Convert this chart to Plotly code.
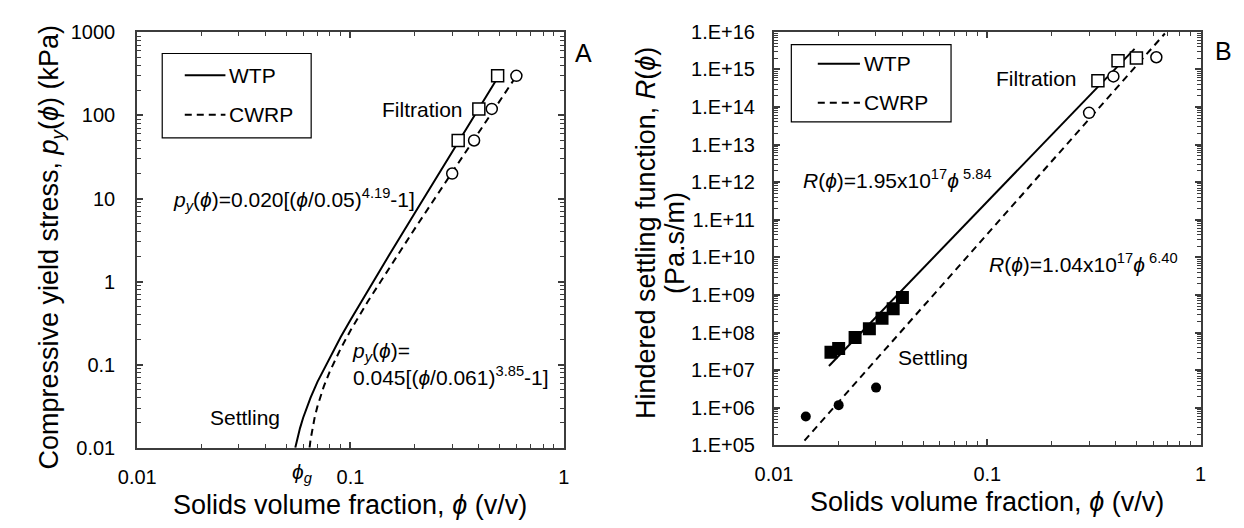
import plotly.graph_objects as go

# ---------------- data ----------------
# Panel A : compressive yield stress
wtp_filt_phi = [0.32, 0.40, 0.49]
wtp_filt_py = [50, 120, 300]
cwrp_filt_phi = [0.30, 0.38, 0.46, 0.60]
cwrp_filt_py = [20, 50, 120, 300]

wtp_fit_phi = [0.0551, 0.056, 0.058, 0.060, 0.065, 0.070, 0.080, 0.090, 0.100, 0.120, 0.150, 0.200, 0.300, 0.400, 0.490]
wtp_fit_py = [0.010, 0.0122, 0.0172, 0.0229, 0.040, 0.062, 0.123, 0.215, 0.345, 0.764, 1.98, 6.64, 36.4, 121.6, 284]
cwrp_fit_phi = [0.0643, 0.065, 0.068, 0.070, 0.075, 0.080, 0.090, 0.100, 0.120, 0.150, 0.200, 0.300, 0.400, 0.600]
cwrp_fit_py = [0.010, 0.0125, 0.0234, 0.0314, 0.0547, 0.0828, 0.156, 0.257, 0.564, 1.39, 4.31, 20.7, 62.7, 299]

# Panel B : hindered settling function
wtp_settle_phi = [0.0185, 0.0201, 0.0240, 0.0280, 0.0321, 0.0362, 0.0400]
wtp_settle_R = [3.0e7, 3.8e7, 7.4e7, 1.26e8, 2.4e8, 4.3e8, 8.6e8]
cwrp_settle_phi = [0.0141, 0.0201, 0.0301]
cwrp_settle_R = [5.9e5, 1.18e6, 3.45e6]
wtp_filtB_phi = [0.33, 0.41, 0.50]
wtp_filtB_R = [5.0e14, 1.7e15, 2.0e15]
cwrp_filtB_phi = [0.30, 0.39, 0.62]
cwrp_filtB_R = [7.0e13, 6.5e14, 2.1e15]
wtp_lineB_phi = [0.0181, 0.49]
wtp_lineB_R = [1.3e7, 3.5e15]
cwrp_lineB_phi = [0.0139, 0.68]
cwrp_lineB_R = [1.35e5, 9.0e15]

xA_ticks = [0.01, 0.1, 1]
xA_text = ["0.01", "0.1", "1"]
yA_ticks = [0.01, 0.1, 1, 10, 100, 1000]
yA_text = ["0.01", "0.1", "1", "10", "100", "1000"]
yB_exps = list(range(5, 17))
yB_ticks = [10.0 ** e for e in yB_exps]
yB_text = ["1.E+%02d" % e for e in yB_exps]

# ---------------- styling ----------------
W, H = 1244, 528
FONT = "Liberation Sans, Arial, sans-serif"
AX = "#3c3c3c"
DASH = "7px,5px"


def px(x):
    return x / W


def py(y):
    return 1 - y / H


def minor_vals(lo, hi):
    out = []
    for e in range(lo, hi):
        for m in range(2, 10):
            out.append(m * 10.0 ** e)
    return out


fig = go.Figure()

# Panel A traces
fig.add_trace(go.Scatter(x=wtp_fit_phi, y=wtp_fit_py, mode="lines",
                         line=dict(color="black", width=2), xaxis="x", yaxis="y"))
fig.add_trace(go.Scatter(x=cwrp_fit_phi, y=cwrp_fit_py, mode="lines",
                         line=dict(color="black", width=2, dash=DASH), xaxis="x", yaxis="y"))
fig.add_trace(go.Scatter(x=wtp_filt_phi, y=wtp_filt_py, mode="markers",
                         marker=dict(symbol="square", size=12, color="white",
                                     line=dict(color="black", width=1.5)), xaxis="x", yaxis="y"))
fig.add_trace(go.Scatter(x=cwrp_filt_phi, y=cwrp_filt_py, mode="markers",
                         marker=dict(symbol="circle", size=11, color="white",
                                     line=dict(color="black", width=1.5)), xaxis="x", yaxis="y"))

# Panel B traces
fig.add_trace(go.Scatter(x=wtp_lineB_phi, y=wtp_lineB_R, mode="lines",
                         line=dict(color="black", width=2), xaxis="x2", yaxis="y2"))
fig.add_trace(go.Scatter(x=cwrp_lineB_phi, y=cwrp_lineB_R, mode="lines",
                         line=dict(color="black", width=2, dash=DASH), xaxis="x2", yaxis="y2"))
fig.add_trace(go.Scatter(x=wtp_filtB_phi, y=wtp_filtB_R, mode="markers",
                         marker=dict(symbol="square", size=12, color="white",
                                     line=dict(color="black", width=1.5)), xaxis="x2", yaxis="y2"))
fig.add_trace(go.Scatter(x=cwrp_filtB_phi, y=cwrp_filtB_R, mode="markers",
                         marker=dict(symbol="circle", size=11, color="white",
                                     line=dict(color="black", width=1.5)), xaxis="x2", yaxis="y2"))
fig.add_trace(go.Scatter(x=wtp_settle_phi, y=wtp_settle_R, mode="markers",
                         marker=dict(symbol="square", size=13, color="black",
                                     line=dict(color="black", width=0)), xaxis="x2", yaxis="y2"))
fig.add_trace(go.Scatter(x=cwrp_settle_phi, y=cwrp_settle_R, mode="markers",
                         marker=dict(symbol="circle", size=10, color="black",
                                     line=dict(color="black", width=0)), xaxis="x2", yaxis="y2"))


def axis(dom, rng, tv, tt, mv, anchor, standoff):
    return dict(type="log", domain=dom, range=rng, anchor=anchor,
                tickmode="array", tickvals=tv, ticktext=tt,
                ticks="inside", ticklen=6, tickwidth=1.5, tickcolor=AX,
                minor=dict(tickmode="array", tickvals=mv, ticks="inside",
                           ticklen=4, tickwidth=1, tickcolor=AX, showgrid=False),
                showline=True, linecolor=AX, linewidth=2, mirror="allticks",
                showgrid=False, zeroline=False,
                tickfont=dict(family=FONT, size=20, color="black"),
                ticklabelstandoff=standoff)


xdomA = [px(112.5), px(547.7)]
xdomB = [px(762.3), px(1197.7)]
ydomA = [py(447.3), py(14)]
ydomB = [py(445), py(13.3)]

fig.update_layout(
    width=W, height=H, margin=dict(l=0, r=0, t=0, b=0),
    paper_bgcolor="white", plot_bgcolor="white", showlegend=False,
    font=dict(family=FONT, size=20, color="black"),
    xaxis=axis(xdomA, [-2, 0], xA_ticks, xA_text, minor_vals(-2, 0), "y", 10),
    yaxis=axis(ydomA, [-2, 3], yA_ticks, yA_text, minor_vals(-2, 3), "x", 16),
    xaxis2=axis(xdomB, [-2, 0], xA_ticks, xA_text, minor_vals(-2, 0), "y2", 10),
    yaxis2=axis(ydomB, [5, 16], yB_ticks, yB_text, minor_vals(5, 16), "x2", 13),
)

ann = []


def txt(x, y, text, size=21, xanchor="center", yanchor="middle", angle=0, align="center"):
    ann.append(dict(x=px(x), y=py(y), xref="paper", yref="paper", text=text,
                    showarrow=False, xanchor=xanchor, yanchor=yanchor, textangle=angle,
                    align=align, font=dict(family=FONT, size=size, color="black")))


PHI = "<i>ϕ</i>"
# axis titles
txt(25, 238, "Compressive yield stress, <i>p</i><sub><i>y</i></sub>(" + PHI + ") (kPa)", size=27, angle=-90)
txt(631, 223, "Hindered settling function, <i>R</i>(" + PHI + ")", size=27, angle=-90)
txt(662, 234, "(Pa.s/m)", size=27, angle=-90)
txt(330, 507, "Solids volume fraction, " + PHI + " (v/v)", size=27)
txt(980, 504, "Solids volume fraction, " + PHI + " (v/v)", size=27)
txt(281, 474, "<i>ϕ<sub>g</sub></i>", size=21)
# panel letters
txt(568, 36, "A", size=25)
txt(1221, 33, "B", size=25)
# panel A texts
txt(404, 94, "Filtration")
txt(147, 188, "<i>p</i><sub><i>y</i></sub>(" + PHI + ")=0.020[(" + PHI + "/0.05)<sup>4.19</sup>-1]", xanchor="left")
txt(330, 360, "<i>p</i><sub><i>y</i></sub>(" + PHI + ")=<br>0.045[(" + PHI + "/0.061)<sup>3.85</sup>-1]",
    xanchor="left", align="left")
txt(222, 416, "Settling")
# panel B texts
txt(1030, 62, "Filtration")
txt(790, 167, "<i>R</i>(" + PHI + ")=1.95x10<sup>17</sup>" + PHI + "<sup> 5.84</sup>", xanchor="left")
txt(980, 255, "<i>R</i>(" + PHI + ")=1.04x10<sup>17</sup>" + PHI + "<sup> 6.40</sup>", xanchor="left")
txt(925, 353, "Settling")

# legends (drawn as boxes)
shapes = []


def legend_box(x0, y0, x1, y1, ly1, ly2, lx0, lx1, tx):
    shapes.append(dict(type="rect", xref="paper", yref="paper", x0=px(x0), x1=px(x1),
                       y0=py(y1), y1=py(y0), line=dict(color="black", width=1.2),
                       fillcolor="white", layer="above"))
    shapes.append(dict(type="line", xref="paper", yref="paper", x0=px(lx0), x1=px(lx1),
                       y0=py(ly1), y1=py(ly1), line=dict(color="black", width=2)))
    shapes.append(dict(type="line", xref="paper", yref="paper", x0=px(lx0), x1=px(lx1),
                       y0=py(ly2), y1=py(ly2), line=dict(color="black", width=2, dash=DASH)))
    txt(tx, ly1, "WTP", xanchor="left")
    txt(tx, ly2, "CWRP", xanchor="left")


legend_box(138, 36, 290, 124, 58.7, 100, 161, 202.5, 204)
legend_box(780, 26.7, 943, 107.3, 46.7, 87.3, 807, 850, 852)

fig.update_layout(annotations=ann, shapes=shapes)
fig.write_html("out.html")
